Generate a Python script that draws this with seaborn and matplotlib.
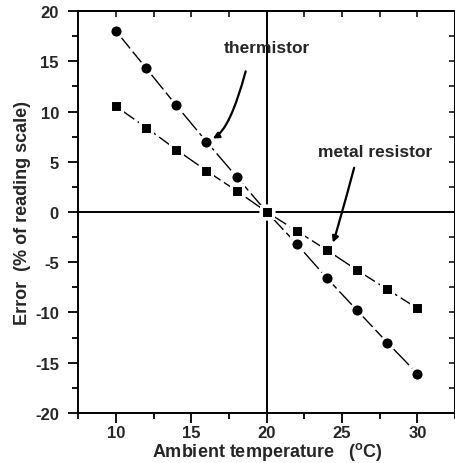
import pandas as pd
import matplotlib.pyplot as plt
import seaborn as sns

# values
temperature = [10, 12, 14, 16, 18, 20, 22, 24, 26, 28, 30]
thermistor = [18.0, 14.3, 10.6, 7.0, 3.5, 0.0, -3.2, -6.6, -9.8, -13.0, -16.1]
metal_resistor = [10.5, 8.4, 6.2, 4.1, 2.1, 0.0, -1.9, -3.8, -5.8, -7.7, -9.6]
x_ticks = [10, 15, 20, 25, 30]
y_ticks = [-20, -15, -10, -5, 0, 5, 10, 15, 20]

df = pd.DataFrame({'temp': temperature, 'thermistor': thermistor, 'metal': metal_resistor})

sns.set_style('ticks')
plt.rcParams['font.family'] = ['Liberation Sans', 'DejaVu Sans']
plt.rcParams['font.weight'] = 'bold'
plt.rcParams['axes.unicode_minus'] = False
plt.rcParams['mathtext.fontset'] = 'custom'
plt.rcParams['mathtext.bf'] = 'Liberation Sans:bold'
plt.rcParams['mathtext.rm'] = 'Liberation Sans:bold'

fig = plt.figure(figsize=(4.56, 4.64), dpi=100)
ax = fig.add_axes([0.172, 0.108, 0.826, 0.866])

# reference lines through the zero point
ax.axhline(0, color='black', lw=1.4, zorder=1)
ax.axvline(20, color='black', lw=1.4, zorder=1)

line_kw = dict(color='black', lw=1.0, linestyle=(0, (16, 3)),
               markeredgecolor='white', markeredgewidth=2.2, zorder=3)
sns.lineplot(data=df, x='temp', y='thermistor', marker='o', markersize=9.5, ax=ax, **line_kw)
sns.lineplot(data=df, x='temp', y='metal', marker='s', markersize=8.5, ax=ax, **line_kw)

ax.set_xlim(7.6, 32.5)
ax.set_ylim(-20, 20)
ax.set_xticks(x_ticks)
ax.set_yticks(y_ticks)
ax.set_xticks([7.5, 12.5, 17.5, 22.5, 27.5, 32.5], minor=True)
ax.set_yticks([-17.5, -12.5, -7.5, -2.5, 2.5, 7.5, 12.5, 17.5], minor=True)
ax.tick_params(which='both', direction='out', width=1.3, labelsize=12, color='black')
ax.tick_params(which='major', length=7)
ax.tick_params(which='minor', length=4)
ax.tick_params(axis='y', pad=7)
ax.tick_params(axis='x', pad=2)

# inward ticks on the top and right sides
top = ax.secondary_xaxis('top')
top.set_xticks(x_ticks)
top.set_xticks([12.5, 17.5, 22.5, 27.5], minor=True)
top.tick_params(which='both', direction='in', length=4, width=1.3, labeltop=False)
right = ax.secondary_yaxis('right')
right.set_yticks(y_ticks)
right.set_yticks([-17.5, -12.5, -7.5, -2.5, 2.5, 7.5, 12.5, 17.5], minor=True)
right.tick_params(which='both', direction='in', length=4, width=1.3, labelright=False)
for sp in ax.spines.values():
    sp.set_linewidth(1.4)
    sp.set_color('black')
top.spines['top'].set_linewidth(1.4)
right.spines['right'].set_linewidth(1.4)

ax.set_xlabel(r'Ambient temperature   ($^\mathbf{o}$C)', fontsize=13, fontweight='bold', labelpad=0)
ax.set_ylabel('Error  (% of reading scale)', fontsize=13, fontweight='bold', labelpad=3)

arrow_kw = dict(arrowstyle='-|>', color='black', lw=1.6, mutation_scale=9, shrinkA=0, shrinkB=2)
ax.text(20.0, 16.4, 'thermistor', fontsize=12.5, fontweight='bold', ha='center', va='center')
ax.annotate('', xy=(16.25, 7.2), xytext=(18.6, 14.0),
            arrowprops=dict(connectionstyle='angle3,angleA=-105,angleB=20', **arrow_kw))
ax.text(27.2, 6.0, 'metal resistor', fontsize=12.5, fontweight='bold', ha='center', va='center')
ax.annotate('', xy=(24.3, -3.3), xytext=(25.8, 4.4),
            arrowprops=dict(connectionstyle='angle3,angleA=-105,angleB=20', **arrow_kw))

plt.setp(ax.get_xticklabels() + ax.get_yticklabels(), fontweight='bold')

plt.savefig('out.png', dpi=100)
